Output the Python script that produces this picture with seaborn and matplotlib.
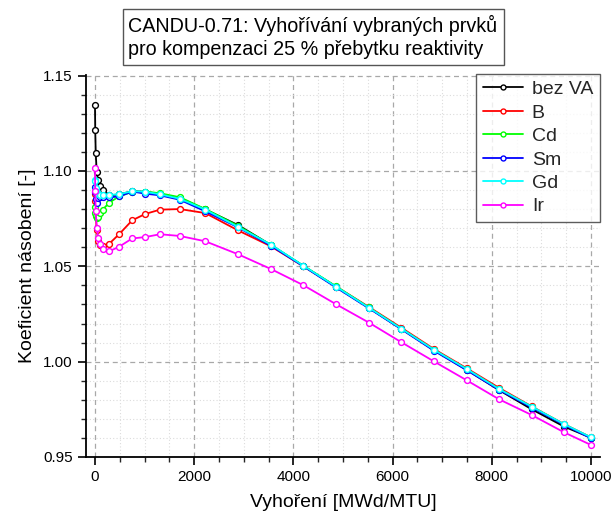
import matplotlib
matplotlib.use("Agg")
import matplotlib.pyplot as plt
from matplotlib.ticker import MultipleLocator, FormatStrFormatter
import seaborn as sns
import pandas as pd

# Burnup steps [MWd/MTU]
burnup = [0, 5, 15, 35, 65, 100, 155, 290, 490, 750, 1010, 1310, 1710, 2225,
          2885, 3545, 4200, 4860, 5520, 6175, 6835, 7495, 8150, 8805, 9460, 10000]

# Multiplication factor for each burnable absorber variant
k_bez_va = [1.1348, 1.1216, 1.1095, 1.0994, 1.0950, 1.0920, 1.0898, 1.0872, 1.0877,
            1.0894, 1.0891, 1.0879, 1.0858, 1.0798, 1.0716, 1.0612, 1.0502, 1.0392,
            1.0282, 1.0172, 1.0060, 0.9957, 0.9850, 0.9750, 0.9659, 0.9601]
k_b = [1.0881, 1.0840, 1.0770, 1.0690, 1.0635, 1.0612, 1.0606, 1.0619, 1.0669,
       1.0741, 1.0774, 1.0797, 1.0800, 1.0779, 1.0688, 1.0605, 1.0500, 1.0394,
       1.0287, 1.0178, 1.0066, 0.9965, 0.9862, 0.9765, 0.9672, 0.9603]
k_cd = [1.0811, 1.0780, 1.0762, 1.0755, 1.0760, 1.0778, 1.0797, 1.0834, 1.0867,
        1.0890, 1.0892, 1.0883, 1.0862, 1.0800, 1.0712, 1.0612, 1.0503, 1.0395,
        1.0284, 1.0173, 1.0061, 0.9960, 0.9855, 0.9763, 0.9670, 0.9602]
k_sm = [1.0915, 1.0889, 1.0851, 1.0833, 1.0860, 1.0861, 1.0862, 1.0862, 1.0866,
        1.0892, 1.0881, 1.0872, 1.0849, 1.0788, 1.0704, 1.0608, 1.0500, 1.0389,
        1.0280, 1.0170, 1.0057, 0.9955, 0.9851, 0.9759, 0.9668, 0.9598]
k_gd = [1.0954, 1.0945, 1.0910, 1.0889, 1.0879, 1.0876, 1.0874, 1.0874, 1.0878,
        1.0894, 1.0891, 1.0877, 1.0854, 1.0797, 1.0706, 1.0614, 1.0503, 1.0393,
        1.0283, 1.0173, 1.0062, 0.9961, 0.9856, 0.9764, 0.9672, 0.9603]
k_ir = [1.1015, 1.0896, 1.0790, 1.0703, 1.0650, 1.0617, 1.0591, 1.0579, 1.0603,
        1.0646, 1.0653, 1.0668, 1.0659, 1.0631, 1.0563, 1.0486, 1.0401, 1.0301,
        1.0205, 1.0102, 1.0001, 0.9902, 0.9802, 0.9720, 0.9629, 0.9563]

labels = ["bez VA", "B", "Cd", "Sm", "Gd", "Ir"]
colors = ["#000000", "#ff0000", "#00ff00", "#0000ff", "#00ffff", "#ff00ff"]
series = [k_bez_va, k_b, k_cd, k_sm, k_gd, k_ir]

sns.set_theme(style="white")
plt.rcParams["font.family"] = ["Liberation Sans", "DejaVu Sans"]

fig = plt.figure(figsize=(6.15, 5.22), dpi=100)
ax = fig.add_axes([86 / 615, 1 - 457 / 522, (600 - 86) / 615, (457 - 75) / 522])

for lab, col, vals in zip(labels, colors, series):
    df = pd.DataFrame({"burnup": burnup, "k": vals})
    sns.lineplot(data=df, x="burnup", y="k", ax=ax, color=col, label=lab,
                 linewidth=1.3, marker="o", markersize=4.2,
                 markerfacecolor="white", markeredgecolor=col,
                 markeredgewidth=1.0, sort=False, errorbar=None)

ax.set_xlim(-181, 10181)
ax.set_ylim(0.95, 1.1503)
ax.xaxis.set_major_locator(MultipleLocator(2000))
ax.xaxis.set_minor_locator(MultipleLocator(500))
ax.yaxis.set_major_locator(MultipleLocator(0.05))
ax.yaxis.set_minor_locator(MultipleLocator(0.01))
ax.yaxis.set_major_formatter(FormatStrFormatter("%.2f"))

ax.grid(which="major", color="#a8a8a8", linestyle=(0, (4, 3)), linewidth=0.9)
ax.grid(which="minor", color="#dcdcdc", linestyle=(0, (1, 2)), linewidth=0.8)
ax.set_axisbelow(True)

for side in ("top", "right"):
    ax.spines[side].set_visible(False)
for side in ("left", "bottom"):
    ax.spines[side].set_color("black")
    ax.spines[side].set_linewidth(1.3)

ax.tick_params(which="major", direction="out", length=6, width=1.2,
               labelsize=11, colors="black", bottom=True, left=True)
ax.tick_params(which="minor", direction="out", length=3.5, width=1.0,
               bottom=True, left=True)

ax.set_xlabel("Vyhoření [MWd/MTU]", fontsize=14, color="black", labelpad=7)
ax.set_ylabel("Koeficient násobení [-]", fontsize=14, color="black", labelpad=5)

leg = ax.legend(loc="upper right", bbox_to_anchor=(1.0, 1.003), fontsize=14,
                frameon=True, fancybox=False, edgecolor="#333333",
                borderaxespad=0, handlelength=2.05, handletextpad=0.45,
                labelspacing=0.3, borderpad=0.35, markerscale=0.85)
leg.get_frame().set_linewidth(1.0)

fig.text(0.509, 0.929,
         "CANDU-0.71: Vyhořívání vybraných prvků\npro kompenzaci 25 % přebytku reaktivity",
         ha="center", va="center", multialignment="left", fontsize=14.2,
         color="black", linespacing=1.25,
         bbox=dict(boxstyle="square,pad=0.3", facecolor="white",
                   edgecolor="#555555", linewidth=1.0))

fig.savefig("out.png", dpi=100)
